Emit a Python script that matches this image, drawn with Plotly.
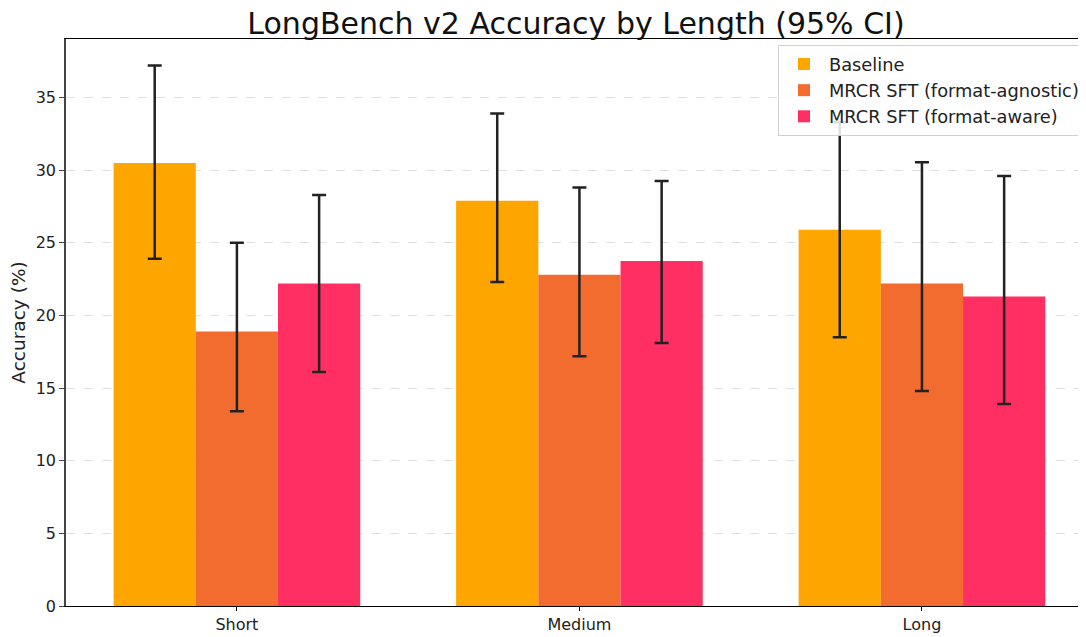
import plotly.graph_objects as go

categories = ["Short", "Medium", "Long"]
series_names = ["Baseline", "MRCR SFT (format-agnostic)", "MRCR SFT (format-aware)"]
colors = ["#FFA500", "#F26B2F", "#FF2E63"]

baseline = [30.5, 27.9, 25.9]
baseline_hi = [37.2, 33.9, 33.3]
baseline_lo = [23.9, 22.3, 18.5]

agnostic = [18.9, 22.8, 22.2]
agnostic_hi = [25.0, 28.8, 30.55]
agnostic_lo = [13.4, 17.2, 14.8]

aware = [22.2, 23.75, 21.3]
aware_hi = [28.3, 29.25, 29.6]
aware_lo = [16.1, 18.1, 13.9]

vals = [baseline, agnostic, aware]
his = [baseline_hi, agnostic_hi, aware_hi]
los = [baseline_lo, agnostic_lo, aware_lo]

fig = go.Figure()
for name, c, v, hi, lo in zip(series_names, colors, vals, his, los):
    fig.add_trace(go.Bar(
        x=categories, y=v, name=name,
        marker=dict(color=c, line=dict(width=0)),
        error_y=dict(type="data", symmetric=False,
                     array=[h - y for h, y in zip(hi, v)],
                     arrayminus=[y - l for y, l in zip(v, lo)],
                     color="#222222", thickness=2.5, width=7),
    ))

# page body has an 8px margin, so the figure is offset by 8px right and down
W, H = 1078, 629
font_family = "DejaVu Sans"
fig.update_layout(
    width=W, height=H,
    margin=dict(l=58, r=0, t=31, b=31, autoexpand=False),
    paper_bgcolor="white", plot_bgcolor="white",
    barmode="group", bargap=0.28, bargroupgap=0,
    font=dict(family=font_family, size=16, color="#222222"),
    title=dict(text="LongBench v2 Accuracy by Length (95% CI)",
               x=0.5, xref="paper", xanchor="center",
               y=1 - 15.5/H, yref="container", yanchor="middle",
               font=dict(size=30, color="#111111")),
    legend=dict(x=0.999, y=0.9895, xanchor="right", yanchor="top",
                bgcolor="rgba(255,255,255,0.85)", bordercolor="#d0d0d0", borderwidth=1,
                font=dict(size=17.8, color="#222222"), tracegroupgap=0,
                itemwidth=40),
    xaxis=dict(type="category", range=[-0.499, 2.479],
               showline=True, linecolor="black", linewidth=1.2, mirror=True,
               ticks="outside", ticklen=4, tickcolor="black",
               tickfont=dict(size=16), showgrid=False),
    yaxis=dict(range=[0, 39.03], dtick=5, tick0=0,
               showline=True, linecolor="#444444", linewidth=1.5,
               ticks="outside", ticklen=5, tickcolor="#444444",
               tickfont=dict(size=16),
               showgrid=True, gridcolor="#e0e0e0", griddash="dash", gridwidth=1,
               zeroline=False,
               title=dict(text="Accuracy (%)", font=dict(size=18.5), standoff=8)),
)

fig.write_html("out.html")
